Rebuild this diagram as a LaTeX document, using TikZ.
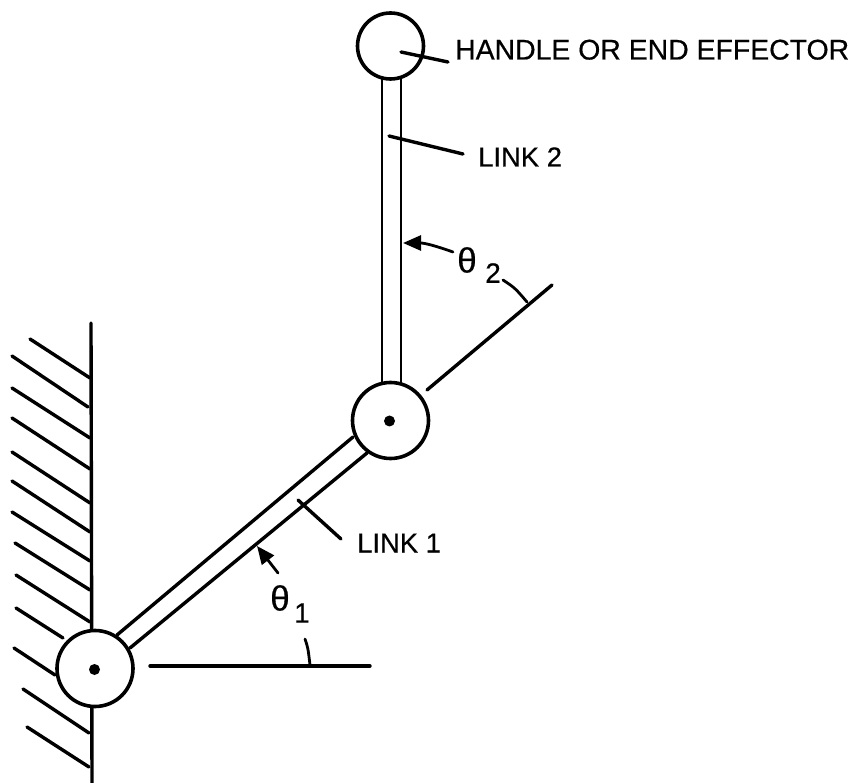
\documentclass[tikz,border=0pt]{standalone}
\usepackage{fontspec}
\setmainfont{Liberation Sans}
\newfontfamily\inkfont[FakeBold=0.5]{Liberation Sans}
\usetikzlibrary{arrows.meta}
\tikzset{
  ink/.style={line width=3.4pt,line cap=round,black},
  thin ink/.style={line width=2.8pt,line cap=round,black},
  joint/.style={circle,draw=black,line width=3.6pt,fill=white,inner sep=0pt,minimum size=#1},
  pin/.style={circle,fill=black,inner sep=0pt,minimum width=11pt,minimum height=11pt},
  lab/.style={anchor=base west,inner sep=0pt,font=\inkfont\fontsize{28.4}{28.4}\selectfont,text=black},
  labs/.style={anchor=base west,inner sep=0pt,font=\inkfont\fontsize{27.4}{27.4}\selectfont,text=black},
  greek/.style={inner sep=0pt,font=\inkfont\fontsize{35}{35}\selectfont,text=black},
  sub/.style={inner sep=0pt,font=\inkfont\fontsize{28}{28}\selectfont,text=black},
  head/.style={-{Triangle[length=18pt,width=15pt]}}
}
\begin{document}
\begin{tikzpicture}[x=1pt,y=-1pt]
\useasboundingbox (0,0) rectangle (857,783);
% wall
\coordinate (wt) at (91,323); \coordinate (wb) at (92,783);
\draw[ink] (wt) -- (wb);
\foreach \a/\b/\c/\d in {30/339/90/378,12/356/88/407,12/388/90/438,12/418/90/469,12/452/90/503,12/481/90/532,12/512/90/561,15/543/90/590,16/575/90/622,16/608/63/638,14/648/55/675,23/689/89/733,27/727/89/767}
  \draw[ink] (\a,\b) -- (\c,\d);
% links
\coordinate (l1a) at (117,635); \coordinate (l1b) at (353,437);
\coordinate (l1c) at (130,648); \coordinate (l1d) at (367,453);
\draw[ink] (l1a) -- (l1b);
\draw[ink] (l1c) -- (l1d);
\coordinate (l2a) at (382,78); \coordinate (l2b) at (382,385);
\coordinate (l2c) at (401,78); \coordinate (l2d) at (401,385);
\draw[thin ink] (l2a) -- (l2b);
\draw[thin ink] (l2c) -- (l2d);
% joints
\node[joint=76pt] (j1) at (95,668.5) {};
\node[joint=76pt] (j2) at (390.5,420.5) {};
\node[joint=66pt] (h) at (390.5,46) {};
\node[pin] (p1) at (94.5,669.5) {};
\node[pin] (p2) at (389.5,421) {};
% reference lines
\coordinate (r1a) at (150,666); \coordinate (r1b) at (370,666);
\draw[ink] (r1a) -- (r1b);
\coordinate (r2a) at (427,390); \coordinate (r2b) at (552,285);
\draw[ink] (r2a) -- (r2b);
% angle ticks
\coordinate (t1a) at (305,639); \coordinate (t1b) at (310,665);
\draw[thin ink] (t1a) .. controls (308,648) .. (t1b);
\coordinate (t2a) at (503,280); \coordinate (t2b) at (527,302);
\draw[thin ink] (t2a) .. controls (515,288) .. (t2b);
% angle arrows
\coordinate (a1t) at (278,573); \coordinate (a1h) at (257,546);
\draw[thin ink,head] (a1t) -- (a1h);
\coordinate (a2t) at (453,252); \coordinate (a2h) at (403,243);
\draw[thin ink,head] (a2t) .. controls (436,246) and (425,243) .. (a2h);
% leaders
\coordinate (le1) at (401,52); \coordinate (le2) at (448,62);
\draw[ink] (le1) -- (le2);
\coordinate (le3) at (389,136); \coordinate (le4) at (463,154);
\draw[ink] (le3) -- (le4);
\coordinate (le5) at (298,500); \coordinate (le6) at (341,539);
\draw[ink] (le5) -- (le6);
% text
\node[lab] (t1) at (455,59.5) {HANDLE OR END EFFECTOR};
\node[labs] (t2) at (478,166.5) {LINK 2};
\node[labs] (t3) at (357,552.5) {LINK 1};
\node[greek] (th1) at (280,598) {θ};
\node[sub] (s1) at (302,613) {1};
\node[greek] (th2) at (467,260) {θ};
\node[sub] (s2) at (493,273) {2};
\end{tikzpicture}
\end{document}
